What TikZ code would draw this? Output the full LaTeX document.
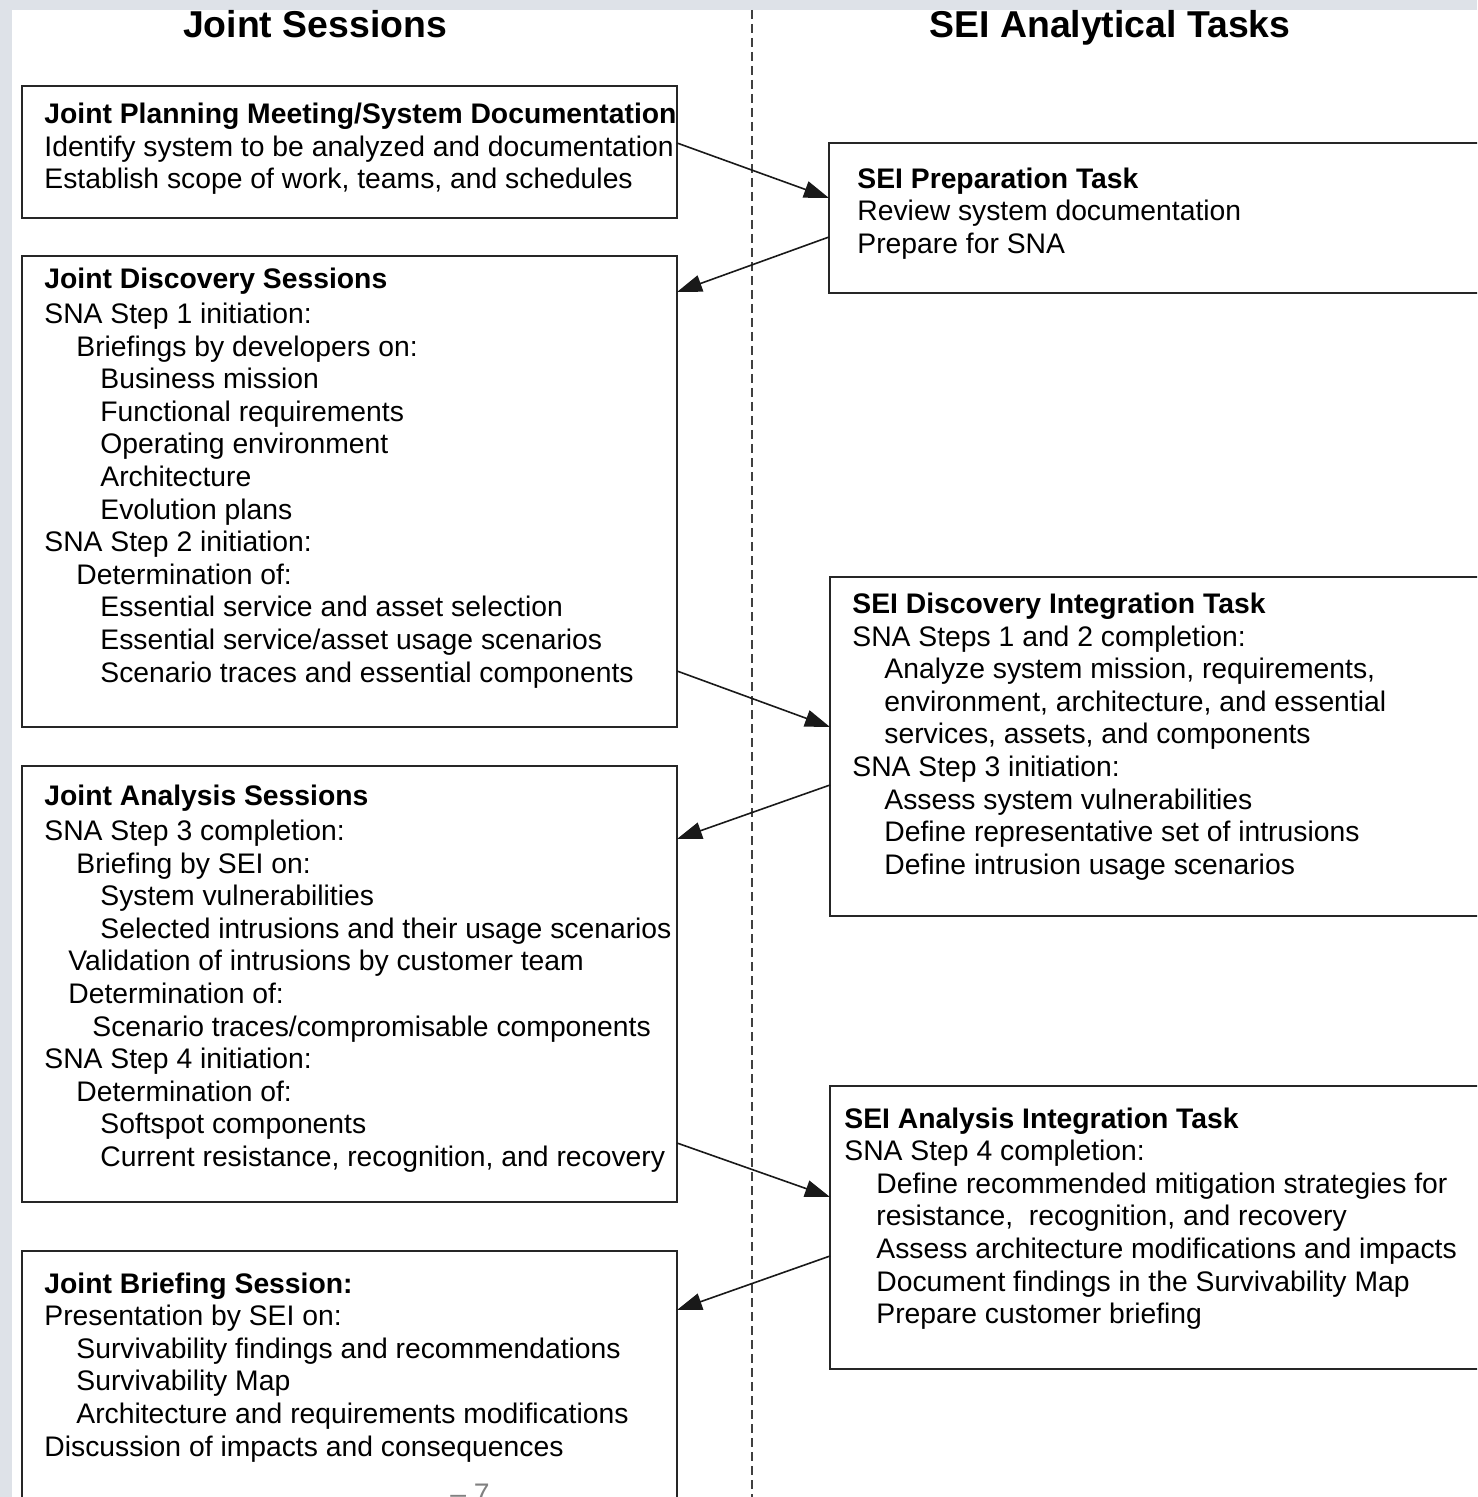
\documentclass[tikz,border=0pt]{standalone}
\usepackage{fontspec}
\setmainfont{Liberation Sans}
\usetikzlibrary{arrows.meta,positioning,calc}
\definecolor{pagegray}{RGB}{222,226,232}
\newcommand{\indt}[1]{\hspace*{#1pt}}
\tikzset{
    stage/.style={draw=black!85, line width=1pt, inner sep=0pt, outer sep=0pt, anchor=north west}, % box of a session or task
    lines/.style={inner sep=0pt, anchor=north west, align=left, font=\fontsize{14.15}{16.3}\selectfont}, % text inside a box
    head/.style={font=\fontsize{18.7}{22}\selectfont\bfseries, anchor=base, inner sep=0pt},
    flow/.style={-{Triangle[length=12.5pt,width=8.5pt]}, line width=0.8pt, black!90}
}

\begin{document}
\begin{tikzpicture}[x=0.5pt, y=-0.5pt]
    \useasboundingbox (0,0) rectangle (1477,1497);
    \clip (0,0) rectangle (1477,1497);
    \fill[pagegray] (0,0) rectangle (1477,1497);
    \fill[white] (12,10) rectangle (1477,1497);

    % column titles and divider
    \node[head] (jtitle) at (315,38) {Joint Sessions};
    \node[head] (stitle) at (1110,38) {SEI Analytical Tasks};
    \draw[black!75, line width=0.6pt, dash pattern=on 4.5pt off 2.5pt] (752,10) -- (752,1497);

    % joint sessions
    \node[stage, minimum width=327.5pt, minimum height=66pt] (plan) at (22,86) {};
    \node[lines, below right=7.1pt and 11pt of plan.north west] (plantext) {\strut\textbf{Joint Planning Meeting/System Documentation}\\
        Identify system to be analyzed and documentation\\
        Establish scope of work, teams, and schedules};

    \node[stage, minimum width=327.5pt, minimum height=235.5pt] (disc) at (22,256) {};
    \node[lines, below right=4.6pt and 11pt of disc.north west] (disctext) {\strut\textbf{Joint Discovery Sessions}\\[1.2pt]
        SNA Step 1 initiation:\\
        \indt{16}Briefings by developers on:\\
        \indt{28}Business mission\\
        \indt{28}Functional requirements\\
        \indt{28}Operating environment\\
        \indt{28}Architecture\\
        \indt{28}Evolution plans\\
        SNA Step 2 initiation:\\
        \indt{16}Determination of:\\
        \indt{28}Essential service and asset selection\\
        \indt{28}Essential service/asset usage scenarios\\
        \indt{28}Scenario traces and essential components};

    \node[stage, minimum width=327.5pt, minimum height=218pt] (anal) at (22,766) {};
    \node[lines, below right=8.1pt and 11pt of anal.north west] (analtext) {\strut\textbf{Joint Analysis Sessions}\\[1.2pt]
        SNA Step 3 completion:\\
        \indt{16}Briefing by SEI on:\\
        \indt{28}System vulnerabilities\\
        \indt{28}Selected intrusions and their usage scenarios\\
        \indt{12}Validation of intrusions by customer team\\
        \indt{12}Determination of:\\
        \indt{24}Scenario traces/compromisable components\\
        SNA Step 4 initiation:\\
        \indt{16}Determination of:\\
        \indt{28}Softspot components\\
        \indt{28}Current resistance, recognition, and recovery};

    \node[stage, minimum width=327.5pt, minimum height=150pt] (brief) at (22,1251) {};
    \node[lines, below right=9.4pt and 11pt of brief.north west] (brieftext) {\strut\textbf{Joint Briefing Session:}\\
        Presentation by SEI on:\\
        \indt{16}Survivability findings and recommendations\\
        \indt{16}Survivability Map\\
        \indt{16}Architecture and requirements modifications\\
        Discussion of impacts and consequences};

    % SEI tasks
    \node[stage, minimum width=340pt, minimum height=75pt] (prep) at (829,143) {};
    \node[lines, below right=10.9pt and 14pt of prep.north west] (preptext) {\strut\textbf{SEI Preparation Task}\\
        Review system documentation\\
        Prepare for SNA};

    \node[stage, minimum width=340pt, minimum height=169.5pt] (integ) at (830,577) {};
    \node[lines, below right=6.6pt and 11pt of integ.north west] (integtext) {\strut\textbf{SEI Discovery Integration Task}\\
        SNA Steps 1 and 2 completion:\\
        \indt{16}Analyze system mission, requirements,\\
        \indt{16}environment, architecture, and essential\\
        \indt{16}services, assets, and components\\
        SNA Step 3 initiation:\\
        \indt{16}Assess system vulnerabilities\\
        \indt{16}Define representative set of intrusions\\
        \indt{16}Define intrusion usage scenarios};

    \node[stage, minimum width=340pt, minimum height=141.5pt] (anint) at (830,1086) {};
    \node[lines, below right=9.4pt and 7pt of anint.north west] (aninttext) {\strut\textbf{SEI Analysis Integration Task}\\
        SNA Step 4 completion:\\
        \indt{16}Define recommended mitigation strategies for\\
        \indt{16}resistance,\ \ recognition, and recovery\\
        \indt{16}Assess architecture modifications and impacts\\
        \indt{16}Document findings in the Survivability Map\\
        \indt{16}Prepare customer briefing};

    \node[inner sep=0pt, anchor=north, text=black!50, font=\fontsize{14.15}{16.3}\selectfont] (pagenum) at (470,1484) {– 7};

    % hand-offs between the two columns
    \draw[flow] ($(plan.north east)+(0,57)$) -- ($(prep.north west)+(0,55)$);
    \draw[flow] ($(prep.north west)+(0,94)$) -- ($(disc.north east)+(0,36)$);
    \draw[flow] ($(disc.north east)+(0,415)$) -- ($(integ.north west)+(0,150)$);
    \draw[flow] ($(integ.north west)+(0,208)$) -- ($(anal.north east)+(0,73)$);
    \draw[flow] ($(anal.north east)+(0,377)$) -- ($(anint.north west)+(0,111)$);
    \draw[flow] ($(anint.north west)+(0,170)$) -- ($(brief.north east)+(0,59)$);
\end{tikzpicture}
\end{document}
